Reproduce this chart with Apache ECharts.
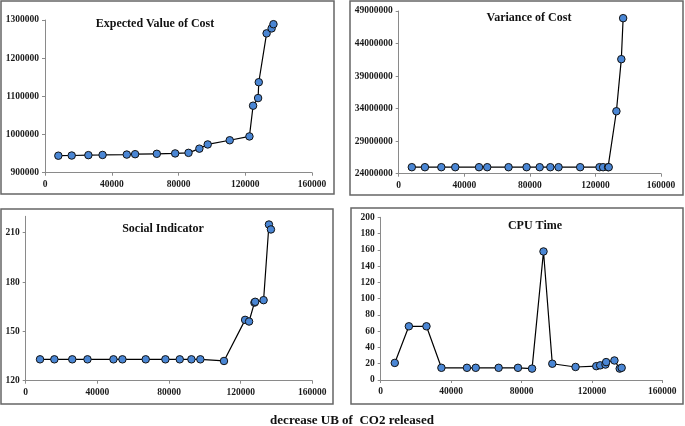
<!DOCTYPE html>
<html>
<head>
<meta charset="utf-8">
<script src="https://cdn.jsdelivr.net/npm/echarts@6/dist/echarts.min.js"></script>
<style>html,body{margin:0;padding:0;background:#fff}#c{width:685px;height:426px}</style>
</head>
<body>
<div id="c"></div>
<script>
// UB of CO2 released (x values shared by all panels)
var xValues = [8000, 16000, 26000, 34500, 49000, 54000, 67000, 78000, 86000, 92500, 97500, 110700, 122500, 124700, 127700, 128100, 132800, 135800, 136900];
var expectedCost = [944500, 945000, 946000, 946500, 947500, 948500, 949500, 950500, 952000, 963000, 974000, 985000, 995000, 1075500, 1095500, 1137000, 1265000, 1278000, 1289000];
var varianceCost = [25000000, 25000000, 25000000, 25000000, 25000000, 25000000, 25000000, 25000000, 25000000, 25000000, 25000000, 25000000, 25000000, 25000000, 25000000, 25000000, 33600000, 41600000, 47900000];
var socialIndicator = [133, 133, 133, 133, 133, 133, 133, 133, 133, 133, 133, 132, 157, 156, 167.5, 168, 169, 215, 212];
var cpuTime = [21, 66, 66, 15, 15, 15, 15, 15, 14, 158, 20, 16, 17, 18, 19, 22, 24, 14, 15];
var panelTitles = ['Expected Value of Cost', 'Variance of Cost', 'Social Indicator', 'CPU Time'];
var xLabel = 'decrease UB of  CO2 released';

function pairs(ys){ return xValues.map(function(x,i){ return [x, ys[i]]; }); }

var font = 'Liberation Serif, Times New Roman, serif';
var grids = [
  {left:45, top:20, width:267, height:152.7},
  {left:398.7, top:11, width:262.3, height:162.7},
  {left:25.7, top:216.3, width:286.6, height:164.4},
  {left:380.7, top:217.3, width:281.6, height:162.7}
];
var yCfg = [
  {min:900000, max:1300000, interval:100000},
  {min:24000000, max:49000000, interval:5000000},
  {min:120, max:220, interval:30},
  {min:0, max:200, interval:20}
];
var seriesData = [expectedCost, varianceCost, socialIndicator, cpuTime];
var axisLine = {lineStyle:{color:'#8a8a8a', width:1}};
var axisTick = {show:true, inside:false, length:3, lineStyle:{color:'#8a8a8a'}};
var lab = {fontFamily:font, fontWeight:'bold', fontSize:9.5, color:'#1a1a1a', formatter:function(v){ return String(v); }};

var option = {
  animation:false,
  grid: grids.map(function(g){ return Object.assign({containLabel:false}, g); }),
  xAxis: grids.map(function(g,i){ return {
    type:'value', gridIndex:i, min:0, max:160000, interval:40000,
    axisLine:axisLine, axisTick:axisTick, splitLine:{show:false},
    axisLabel:Object.assign({margin:7}, lab)
  };}),
  yAxis: grids.map(function(g,i){ return {
    type:'value', gridIndex:i, min:yCfg[i].min, max:yCfg[i].max, interval:yCfg[i].interval,
    axisLine:Object.assign({show:true}, axisLine), axisTick:axisTick, splitLine:{show:false},
    axisLabel:Object.assign({margin:6, showMaxLabel: i===2 ? false : true}, lab)
  };}),
  series: seriesData.map(function(d,i){ return {
    type:'line', xAxisIndex:i, yAxisIndex:i, data:pairs(d),
    symbol:'circle', symbolSize:7.5,
    lineStyle:{color:'#000', width:1.2},
    itemStyle:{color:'#4A86D4', borderColor:'#111', borderWidth:1}
  };}),
  graphic: [
    {type:'rect', shape:{x:1, y:1, width:333, height:193}, style:{fill:null, stroke:'#666', lineWidth:1.5}},
    {type:'rect', shape:{x:350, y:1, width:333, height:194}, style:{fill:null, stroke:'#666', lineWidth:1.5}},
    {type:'rect', shape:{x:1, y:209, width:332, height:195}, style:{fill:null, stroke:'#666', lineWidth:1.5}},
    {type:'rect', shape:{x:351, y:208, width:332, height:196}, style:{fill:null, stroke:'#666', lineWidth:1.5}},
    {type:'text', x:155, y:24, style:{text:panelTitles[0], textAlign:'center', textVerticalAlign:'middle', font:'bold 12px '+font, fill:'#111'}},
    {type:'text', x:529, y:18, style:{text:panelTitles[1], textAlign:'center', textVerticalAlign:'middle', font:'bold 12px '+font, fill:'#111'}},
    {type:'text', x:163, y:229, style:{text:panelTitles[2], textAlign:'center', textVerticalAlign:'middle', font:'bold 12px '+font, fill:'#111'}},
    {type:'text', x:535, y:226, style:{text:panelTitles[3], textAlign:'center', textVerticalAlign:'middle', font:'bold 12px '+font, fill:'#111'}},
    {type:'text', x:352, y:421, style:{text:xLabel, textAlign:'center', textVerticalAlign:'middle', font:'bold 13px '+font, fill:'#111'}}
  ]
};
var chart = echarts.init(document.getElementById('c'), null, {renderer:'canvas'});
chart.setOption(option);
</script>
</body>
</html>
